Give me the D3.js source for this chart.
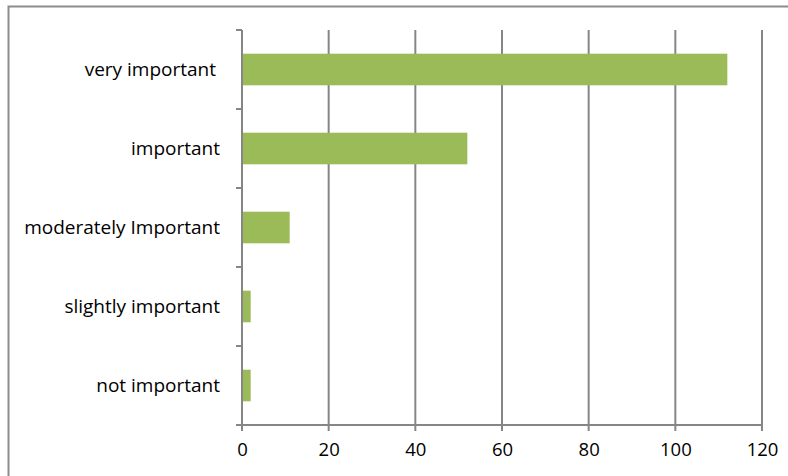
<!DOCTYPE html>
<html>
<head>
<meta charset="utf-8">
<script src="https://cdn.jsdelivr.net/npm/d3@7"></script>
<style>
  body { margin: 0; background: #fff; }
  svg { display: block; }
  text { font-family: "Open Sans", Lato, sans-serif; fill: #000; }
</style>
</head>
<body>
<div id="chart"></div>
<script>
// data
var categories = ["very important", "important", "moderately Important", "slightly important", "not important"];
var values = [112, 52, 11, 2, 2];
var xTicks = [0, 20, 40, 60, 80, 100, 120];

var W = 788, H = 476;
var margin = {top: 30, right: 26, bottom: 51, left: 242},
    width = W - margin.left - margin.right,
    height = H - margin.top - margin.bottom;

var svg = d3.select("#chart")
  .append("svg")
  .attr("width", W)
  .attr("height", H);

// chart frame
svg.append("rect")
  .attr("x", 8.5).attr("y", 6.5)
  .attr("width", 800).attr("height", 500)
  .attr("fill", "none")
  .attr("stroke", "#8c8c8c")
  .attr("stroke-width", 2);

var g = svg.append("g")
  .attr("transform", "translate(" + margin.left + "," + margin.top + ")");

var x = d3.scaleLinear().domain([0, 120]).range([0, width]);
var y = d3.scaleBand().domain(categories).range([0, height]).paddingInner(0.6).paddingOuter(0.3);
var band = d3.scaleBand().domain(categories).range([0, height]);

// vertical gridlines
g.append("g")
  .selectAll("line")
  .data(xTicks.slice(1))
  .enter()
  .append("line")
  .attr("x1", function(d) { return x(d); })
  .attr("x2", function(d) { return x(d); })
  .attr("y1", 0)
  .attr("y2", height + 6)
  .attr("stroke", "#868686")
  .attr("stroke-width", 2);

// bars
g.append("g")
  .selectAll("rect")
  .data(values)
  .enter()
  .append("rect")
  .attr("x", x(0))
  .attr("y", function(d, i) { return y(categories[i]); })
  .attr("width", function(d) { return x(d) - x(0); })
  .attr("height", y.bandwidth())
  .attr("fill", "#9bbb59");

// x axis
var xAxis = g.append("g")
  .attr("transform", "translate(0," + height + ")")
  .call(d3.axisBottom(x).tickValues(xTicks).tickSize(0).tickPadding(18));
xAxis.select(".domain").remove();
xAxis.selectAll("text").attr("font-size", 18.5).attr("font-family", "'Open Sans', Lato, sans-serif");

g.append("line")
  .attr("x1", -6).attr("x2", width)
  .attr("y1", height).attr("y2", height)
  .attr("stroke", "#868686").attr("stroke-width", 2);
g.append("line")
  .attr("x1", 0).attr("x2", 0)
  .attr("y1", 0).attr("y2", height + 6)
  .attr("stroke", "#868686").attr("stroke-width", 2);

// category tick marks on y axis
g.append("g")
  .selectAll("line")
  .data(categories)
  .enter()
  .append("line")
  .attr("x1", -6).attr("x2", 0)
  .attr("y1", function(d) { return band(d); })
  .attr("y2", function(d) { return band(d); })
  .attr("stroke", "#868686").attr("stroke-width", 2);

// category labels
g.append("g")
  .selectAll("text")
  .data(categories)
  .enter()
  .append("text")
  .attr("x", function(d, i) { return i === 0 ? -26 : -22; })
  .attr("y", function(d) { return band(d) + band.bandwidth() / 2; })
  .attr("dy", "0.35em")
  .attr("text-anchor", "end")
  .attr("font-size", 19)
  .text(function(d) { return d; });
</script>
</body>
</html>
